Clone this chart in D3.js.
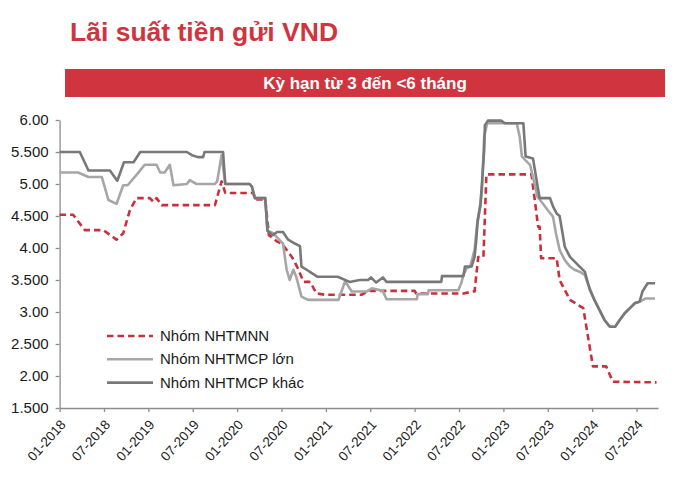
<!DOCTYPE html>
<html>
<head>
<meta charset="utf-8">
<script src="https://cdn.jsdelivr.net/npm/d3@7"></script>
<style>
  html, body { margin: 0; padding: 0; background: #ffffff; }
  svg { display: block; font-family: "Liberation Sans", Arial, sans-serif; }
</style>
</head>
<body>
<svg id="chart" width="700" height="481"></svg>
<script>
// ---------- DATA ----------
const titleText = "Lãi suất tiền gửi VND";
const bannerText = "Kỳ hạn từ 3 đến <6 tháng";

const seriesNames = ["Nhóm NHTMNN", "Nhóm NHTMCP lớn", "Nhóm NHTMCP khác"];

const xTickLabels = ["01-2018","07-2018","01-2019","07-2019","01-2020","07-2020","01-2021",
                     "07-2021","01-2022","07-2022","01-2023","07-2023","01-2024","07-2024"];
const yTickValues = [1.5, 2, 2.5, 3, 3.5, 4, 4.5, 5, 5.5, 6];
const yTickLabels = ["1.500","2.00","2.500","3.00","3.500","4.00","4.500","5.00","5.500","6.00"];

// Nhóm NHTMNN
const nhtmnnDates = ["2018-01-01","2018-02-26","2018-04-13","2018-06-28","2018-08-22","2018-09-19","2018-10-16","2018-11-13",
  "2019-01-07","2019-01-22","2019-02-04","2019-02-25","2019-10-01","2019-10-28","2019-11-13","2020-03-07","2020-03-13",
  "2020-04-25","2020-05-10","2020-06-13","2020-07-01","2020-07-22","2020-08-13","2020-09-04","2020-10-01","2020-10-28",
  "2020-11-22","2020-12-28","2021-05-25","2021-06-28","2022-01-01","2022-01-07","2022-07-19","2022-08-28","2022-09-04",
  "2022-09-19","2022-10-10","2022-10-22","2023-04-25","2023-05-22","2023-05-28","2023-06-04","2023-08-07","2023-08-19",
  "2023-10-01","2023-11-25","2024-01-04","2024-02-28","2024-03-25","2024-09-22"];
const nhtmnnValues = [4.52,4.52,4.28,4.28,4.13,4.23,4.59,4.78,
  4.78,4.72,4.78,4.67,4.67,5.04,4.86,4.86,4.76,
  4.76,4.2,4.1,4.07,3.97,3.86,3.71,3.47,3.47,
  3.29,3.27,3.27,3.33,3.33,3.29,3.29,3.32,3.32,
  3.86,3.86,5.15,5.15,4.33,4.33,3.84,3.84,3.5,
  3.19,3.06,2.15,2.15,1.91,1.9];

// Nhóm NHTMCP lớn
const lonDates = ["2018-01-01","2018-03-16","2018-04-28","2018-06-22","2018-07-19","2018-08-22","2018-09-19","2018-10-07",
  "2018-11-19","2018-12-16","2019-02-04","2019-02-19","2019-03-07","2019-03-28","2019-04-13","2019-06-07","2019-06-19",
  "2019-07-16","2019-10-01","2019-10-10","2019-10-28","2019-11-13","2020-02-22","2020-03-01","2020-03-13","2020-04-25",
  "2020-05-04","2020-05-28","2020-07-07","2020-07-22","2020-08-04","2020-08-19","2020-09-01","2020-09-22","2020-10-19",
  "2021-02-22","2021-03-19","2021-04-16","2021-06-16","2021-07-07","2021-08-22","2021-09-07","2022-01-10","2022-01-13",
  "2022-02-25","2022-02-28","2022-06-28","2022-07-10","2022-07-19","2022-08-01","2022-08-16","2022-09-04","2022-09-16",
  "2022-09-28","2022-10-04","2022-10-13","2022-10-25","2023-02-25","2023-03-07","2023-03-16","2023-03-28","2023-04-19",
  "2023-05-07","2023-05-19","2023-06-10","2023-07-01","2023-07-22","2023-08-04","2023-08-19","2023-09-10","2023-10-01",
  "2023-10-19","2023-11-10","2023-12-01","2023-12-13","2024-01-10","2024-02-01","2024-02-22","2024-03-13","2024-04-04",
  "2024-04-22","2024-05-13","2024-06-04","2024-06-25","2024-07-13","2024-08-07","2024-09-16"];
const lonValues = [5.18,5.18,5.11,5.11,4.75,4.69,4.98,4.98,
  5.17,5.30,5.30,5.18,5.18,5.30,4.98,5.0,5.06,
  5.0,5.0,5.04,5.45,5.0,5.0,4.96,4.78,4.78,
  4.27,4.23,4.07,3.66,3.5,3.66,3.55,3.24,3.19,
  3.19,3.48,3.32,3.32,3.37,3.33,3.2,3.2,3.28,
  3.28,3.34,3.34,3.45,3.58,3.68,3.71,3.97,4.44,
  4.65,4.91,5.74,5.95,5.95,5.74,5.43,5.38,5.30,
  5.01,4.80,4.70,4.59,4.49,4.23,3.97,3.81,3.71,
  3.66,3.63,3.58,3.45,3.19,3.03,2.87,2.77,2.77,
  2.87,2.98,3.06,3.14,3.16,3.21,3.21];

// Nhóm NHTMCP khác
const khacDates = ["2018-01-01","2018-03-23","2018-04-28","2018-07-25","2018-08-25","2018-09-22","2018-11-01","2018-11-28",
  "2019-06-07","2019-06-28","2019-07-22","2019-08-13","2019-08-19","2019-11-04","2019-11-13","2020-02-22","2020-03-01",
  "2020-03-13","2020-04-25","2020-05-04","2020-05-25","2020-06-13","2020-07-07","2020-07-28","2020-08-25","2020-09-16",
  "2020-09-22","2020-10-13","2020-11-07","2020-11-28","2021-02-19","2021-04-07","2021-05-19","2021-06-22","2021-07-04",
  "2021-07-25","2021-08-22","2021-09-07","2022-04-19","2022-04-22","2022-07-19","2022-07-25","2022-08-22","2022-09-04",
  "2022-09-10","2022-09-16","2022-09-28","2022-10-04","2022-10-13","2022-10-16","2022-10-28","2022-12-22","2023-01-07",
  "2023-03-22","2023-04-01","2023-05-01","2023-05-22","2023-05-28","2023-07-10","2023-07-22","2023-08-07","2023-08-19",
  "2023-09-10","2023-10-01","2023-10-19","2023-11-10","2023-12-01","2023-12-22","2024-01-10","2024-02-01","2024-02-22",
  "2024-03-13","2024-04-04","2024-04-22","2024-05-13","2024-06-04","2024-06-25","2024-07-13","2024-07-25","2024-08-16",
  "2024-09-16"];
const khacValues = [5.5,5.5,5.21,5.21,5.05,5.34,5.34,5.5,
  5.5,5.45,5.42,5.42,5.5,5.5,5.0,5.0,4.96,
  4.78,4.78,4.27,4.20,4.25,4.25,4.13,4.07,4.03,
  3.71,3.66,3.6,3.55,3.55,3.47,3.5,3.5,3.54,
  3.46,3.54,3.47,3.47,3.56,3.56,3.71,3.71,3.86,
  4.08,4.39,4.70,5.01,5.53,5.92,5.99,5.99,5.95,
  5.95,5.43,5.40,4.91,4.78,4.78,4.65,4.54,4.5,
  4.02,3.86,3.79,3.71,3.63,3.34,3.19,3.03,2.87,
  2.77,2.77,2.87,2.98,3.06,3.14,3.16,3.32,3.45,
  3.45];

// ---------- HELPERS ----------
function monthIndex(s) {
  const p = s.split("-").map(Number);
  const y = p[0], m = p[1], d = p.length > 2 ? p[2] : 1;
  return (y - 2018) * 12 + (m - 1) + (d - 1) / 30;
}
function labelIndex(lbl) { const p = lbl.split("-"); return monthIndex(p[1] + "-" + p[0] + "-01"); }

const series = [
  { name: seriesNames[0], dates: nhtmnnDates, values: nhtmnnValues, color: "#c8313b", dash: "6.5,4" },
  { name: seriesNames[1], dates: lonDates, values: lonValues, color: "#a6a6a6", dash: null },
  { name: seriesNames[2], dates: khacDates, values: khacValues, color: "#787878", dash: null }
];

// ---------- LAYOUT ----------
const svg = d3.select("#chart");
const red = "#d0343f";

svg.append("text")
  .attr("x", 70).attr("y", 41)
  .attr("fill", red)
  .attr("font-size", 26.5).attr("font-weight", "bold")
  .text(titleText);

svg.append("rect")
  .attr("x", 65).attr("y", 69).attr("width", 600).attr("height", 28)
  .attr("fill", red);
svg.append("text")
  .attr("x", 365).attr("y", 89)
  .attr("fill", "#ffffff").attr("text-anchor", "middle")
  .attr("font-size", 17).attr("font-weight", "bold")
  .text(bannerText);

const x = d3.scaleLinear().domain([0, 80.9]).range([59.6, 658]);
const y = d3.scaleLinear().domain([1.5, 6]).range([408, 120]);

const axisColor = "#8c8c8c";

// Y axis
const gy = svg.append("g").attr("transform", "translate(59.6,0)")
  .call(d3.axisLeft(y).tickValues(yTickValues).tickFormat((d, i) => yTickLabels[i]).tickSize(4).tickSizeOuter(0));
gy.select(".domain").attr("stroke", axisColor).attr("stroke-width", 1.3);
gy.selectAll(".tick line").attr("stroke", axisColor).attr("stroke-width", 1.3);
gy.selectAll(".tick text").attr("fill", "#1a1a1a").attr("font-size", 15)
  .attr("font-family", "'Liberation Sans', Arial, sans-serif").attr("x", -11);

// X axis
const xTickValues = xTickLabels.map(labelIndex);
const gx = svg.append("g").attr("transform", "translate(0,408)")
  .call(d3.axisBottom(x).tickValues(xTickValues).tickFormat((d, i) => xTickLabels[i]).tickSize(4).tickSizeOuter(0));
gx.select(".domain").attr("stroke", axisColor).attr("stroke-width", 1.3);
gx.selectAll(".tick line").attr("stroke", axisColor).attr("stroke-width", 1.3);
gx.selectAll(".tick text")
  .attr("fill", "#1a1a1a").attr("font-size", 13.5)
  .attr("font-family", "'Liberation Sans', Arial, sans-serif")
  .attr("text-anchor", "end")
  .attr("dy", "0.35em")
  .attr("transform", "translate(3,14) rotate(-48)")
  .attr("x", 0).attr("y", 0);

// Lines
const line = d3.line().x(d => x(d.m)).y(d => y(d.v));
series.forEach(s => {
  const pts = s.dates.map((dt, i) => ({ m: monthIndex(dt), v: s.values[i] }));
  svg.append("path")
    .datum(pts)
    .attr("d", line)
    .attr("fill", "none")
    .attr("stroke", s.color)
    .attr("stroke-width", 2.6)
    .attr("stroke-linejoin", "round")
    .attr("stroke-dasharray", s.dash);
});

// Legend
const leg = svg.append("g");
series.forEach((s, i) => {
  const ly = 336 + i * 23.3;
  leg.append("line")
    .attr("x1", 107).attr("x2", 153).attr("y1", ly).attr("y2", ly)
    .attr("stroke", s.color).attr("stroke-width", 2.6)
    .attr("stroke-dasharray", s.dash);
  leg.append("text")
    .attr("x", 160).attr("y", ly + 5)
    .attr("fill", "#1a1a1a").attr("font-size", 15)
    .text(s.name);
});
</script>
</body>
</html>
